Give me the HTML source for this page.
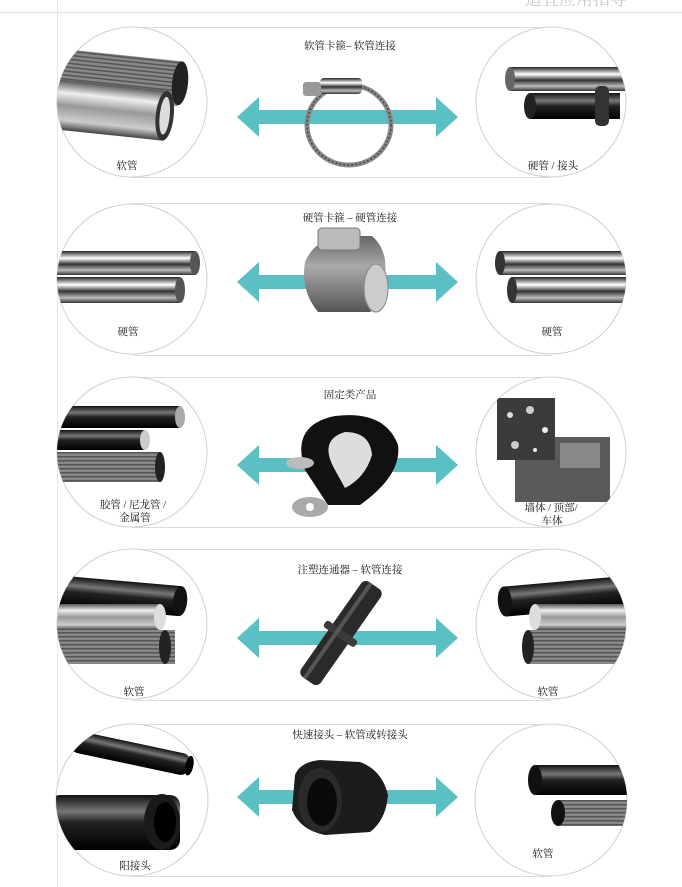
<!DOCTYPE html>
<html><head><meta charset="utf-8"><style>
html,body{margin:0;padding:0;background:#fff;}
svg{display:block;}
text{font-family:"Liberation Serif","Noto Serif CJK SC","Noto Sans CJK SC",serif;font-size:10.5px;fill:#111;}
</style></head><body>
<svg width="682" height="887" viewBox="0 0 682 887" xmlns="http://www.w3.org/2000/svg">
<defs>
<linearGradient id="gm" x1="0" y1="0" x2="0" y2="1">
<stop offset="0" stop-color="#555"/><stop offset="0.25" stop-color="#eee"/><stop offset="0.5" stop-color="#999"/><stop offset="0.8" stop-color="#ccc"/><stop offset="1" stop-color="#444"/></linearGradient>
<linearGradient id="gb" x1="0" y1="0" x2="0" y2="1">
<stop offset="0" stop-color="#111"/><stop offset="0.3" stop-color="#777"/><stop offset="0.5" stop-color="#222"/><stop offset="1" stop-color="#000"/></linearGradient>
<linearGradient id="gs" x1="0" y1="0" x2="0" y2="1">
<stop offset="0" stop-color="#222"/><stop offset="0.3" stop-color="#fff"/><stop offset="0.55" stop-color="#333"/><stop offset="0.8" stop-color="#bbb"/><stop offset="1" stop-color="#333"/></linearGradient>
<linearGradient id="gg" x1="0" y1="0" x2="0" y2="1">
<stop offset="0" stop-color="#666"/><stop offset="0.4" stop-color="#aaa"/><stop offset="1" stop-color="#555"/></linearGradient>
<pattern id="rib" width="4" height="4" patternUnits="userSpaceOnUse"><rect width="4" height="4" fill="#888"/><rect width="4" height="1.5" fill="#555"/></pattern>
<clipPath id="c1L"><circle cx="132" cy="102" r="75"/></clipPath>
<clipPath id="c1R"><circle cx="551" cy="102" r="75"/></clipPath>
<clipPath id="c2L"><circle cx="132" cy="279" r="75"/></clipPath>
<clipPath id="c2R"><circle cx="551" cy="279" r="75"/></clipPath>
<clipPath id="c3L"><circle cx="132" cy="452" r="75"/></clipPath>
<clipPath id="c3R"><circle cx="551" cy="452" r="75"/></clipPath>
<clipPath id="c4L"><circle cx="132" cy="624" r="75"/></clipPath>
<clipPath id="c4R"><circle cx="551" cy="624" r="75"/></clipPath>
<clipPath id="c5L"><circle cx="132" cy="800" r="76"/></clipPath>
<clipPath id="c5R"><circle cx="551" cy="800" r="76"/></clipPath>
<g id="arrow"><polygon points="0,0 22,-20 22,-7 199,-7 199,-20 221,0 199,20 199,7 22,7 22,20" fill="#5bc0c3"/></g>
</defs>

<line x1="0" y1="12.5" x2="682" y2="12.5" stroke="#e6e6e6" stroke-width="1.5"/>
<line x1="57.5" y1="0" x2="57.5" y2="887" stroke="#e6e6e6" stroke-width="1"/>
<text x="525" y="5" style="font-size:17px;fill:#c8c8c8">适宜应用指导</text>

<g fill="none" stroke="#dcdcdc" stroke-width="1">
<line x1="132" y1="27.5" x2="551" y2="27.5"/><line x1="132" y1="177.5" x2="551" y2="177.5"/>
<line x1="132" y1="203.5" x2="551" y2="203.5"/><line x1="132" y1="355.5" x2="551" y2="355.5"/>
<line x1="132" y1="377.5" x2="551" y2="377.5"/><line x1="132" y1="527.5" x2="551" y2="527.5"/>
<line x1="132" y1="549.5" x2="551" y2="549.5"/><line x1="132" y1="700.5" x2="551" y2="700.5"/>
<line x1="132" y1="724.5" x2="551" y2="724.5"/><line x1="132" y1="876.5" x2="551" y2="876.5"/>
</g>
<g fill="#fff" stroke="#d0d0d0" stroke-width="1">
<circle cx="132" cy="102" r="75"/><circle cx="551" cy="102" r="75"/>
<circle cx="132" cy="279" r="75"/><circle cx="551" cy="279" r="75"/>
<circle cx="132" cy="452" r="75"/><circle cx="551" cy="452" r="75"/>
<circle cx="132" cy="624" r="75"/><circle cx="551" cy="624" r="75"/>
<circle cx="132" cy="800" r="76"/><circle cx="551" cy="800" r="76"/>
</g>

<!-- Row1 -->
<g clip-path="url(#c1L)">
<g transform="rotate(6 120 80)"><rect x="50" y="55" width="130" height="45" fill="url(#rib)"/><ellipse cx="180" cy="77" rx="8" ry="22" fill="#222"/></g>
<g transform="rotate(6 110 110)"><rect x="50" y="85" width="115" height="50" fill="url(#gm)"/><ellipse cx="165" cy="110" rx="9" ry="25" fill="#333"/><ellipse cx="165" cy="110" rx="5" ry="19" fill="#ddd"/></g>
</g>
<g clip-path="url(#c1R)">
<rect x="510" y="67" width="120" height="24" fill="url(#gs)"/><ellipse cx="510" cy="79" rx="5" ry="12" fill="#666"/>
<rect x="530" y="93" width="90" height="26" fill="url(#gb)"/><rect x="595" y="86" width="14" height="40" rx="5" fill="#333"/><ellipse cx="530" cy="106" rx="6" ry="13" fill="#222"/>
</g>
<text x="350" y="49" text-anchor="middle">软管卡箍– 软管连接</text>
<use href="#arrow" x="237" y="117"/>
<ellipse cx="349" cy="125" rx="42" ry="40" fill="none" stroke="#888" stroke-width="5"/>
<ellipse cx="349" cy="125" rx="42" ry="40" fill="none" stroke="#444" stroke-width="1.5" stroke-dasharray="2 2"/>
<rect x="320" y="78" width="42" height="16" rx="4" fill="url(#gs)"/>
<rect x="303" y="82" width="18" height="14" rx="3" fill="#999"/>
<text x="127" y="169" text-anchor="middle">软管</text>
<text x="553" y="169" text-anchor="middle">硬管 / 接头</text>

<!-- Row2 -->
<g clip-path="url(#c2L)">
<rect x="50" y="251" width="145" height="24" fill="url(#gs)"/><ellipse cx="195" cy="263" rx="5" ry="12" fill="#555"/>
<rect x="50" y="277" width="130" height="26" fill="url(#gs)"/><ellipse cx="180" cy="290" rx="5" ry="13" fill="#555"/>
</g>
<g clip-path="url(#c2R)">
<rect x="500" y="251" width="140" height="24" fill="url(#gs)"/><ellipse cx="500" cy="263" rx="5" ry="12" fill="#333"/>
<rect x="512" y="277" width="130" height="26" fill="url(#gs)"/><ellipse cx="512" cy="290" rx="5" ry="13" fill="#333"/>
</g>
<text x="350" y="221" text-anchor="middle">硬管卡箍 – 硬管连接</text>
<use href="#arrow" x="237" y="282"/>
<path d="M305 262 Q315 238 345 236 L372 236 Q388 250 385 275 Q383 305 370 312 L318 312 Q300 290 305 262Z" fill="url(#gg)"/>
<ellipse cx="376" cy="288" rx="12" ry="24" fill="#ccc" stroke="#888"/>
<rect x="318" y="228" width="42" height="22" rx="4" fill="#bbb" stroke="#777"/>
<text x="128" y="335" text-anchor="middle">硬管</text>
<text x="552" y="335" text-anchor="middle">硬管</text>

<!-- Row3 -->
<g clip-path="url(#c3L)">
<rect x="50" y="406" width="130" height="22" fill="url(#gb)"/><ellipse cx="180" cy="417" rx="5" ry="11" fill="#aaa"/>
<rect x="50" y="430" width="95" height="20" fill="url(#gb)"/><ellipse cx="145" cy="440" rx="5" ry="10" fill="#ccc"/>
<rect x="50" y="452" width="110" height="30" fill="url(#rib)"/><ellipse cx="160" cy="467" rx="5" ry="15" fill="#222"/>
</g>
<g clip-path="url(#c3R)">
<rect x="515" y="437" width="95" height="65" fill="#5a5a5a"/>
<rect x="560" y="443" width="40" height="25" fill="#888"/>
<rect x="497" y="398" width="58" height="62" fill="#3b3b3b"/>
<circle cx="510" cy="415" r="3" fill="#ddd"/><circle cx="530" cy="410" r="4" fill="#ccc"/><circle cx="545" cy="430" r="3" fill="#eee"/><circle cx="515" cy="445" r="4" fill="#ccc"/><circle cx="535" cy="450" r="2" fill="#eee"/>
</g>
<text x="350" y="398" text-anchor="middle">固定类产品</text>
<use href="#arrow" x="237" y="465"/>
<path d="M328 505 L305 470 Q290 425 335 416 Q385 410 398 445 Q402 475 360 505Z" fill="#111"/>
<path d="M335 470 Q318 440 345 432 Q370 432 372 455 Q365 478 345 488Z" fill="#ddd"/>
<ellipse cx="310" cy="507" rx="18" ry="10" fill="#aaa"/><circle cx="310" cy="507" r="4" fill="#fff"/>
<ellipse cx="300" cy="463" rx="14" ry="6" fill="#bbb"/>
<text x="133" y="508" text-anchor="middle">胶管 / 尼龙管 /</text>
<text x="135" y="521" text-anchor="middle">金属管</text>
<text x="551" y="511" text-anchor="middle">墙体 / 顶部/</text>
<text x="552" y="524" text-anchor="middle">车体</text>

<!-- Row4 -->
<g clip-path="url(#c4L)">
<g transform="rotate(5 110 600)"><rect x="50" y="580" width="130" height="30" fill="url(#gb)"/><ellipse cx="180" cy="595" rx="7" ry="15" fill="#111"/></g>
<rect x="50" y="604" width="110" height="26" fill="url(#gm)"/><ellipse cx="160" cy="617" rx="6" ry="13" fill="#ddd"/>
<rect x="50" y="630" width="125" height="34" fill="url(#rib)"/><ellipse cx="165" cy="647" rx="6" ry="17" fill="#222"/>
</g>
<g clip-path="url(#c4R)">
<g transform="rotate(-5 580 600)"><rect x="505" y="580" width="130" height="30" fill="url(#gb)"/><ellipse cx="505" cy="595" rx="7" ry="15" fill="#111"/></g>
<rect x="535" y="604" width="100" height="26" fill="url(#gm)"/><ellipse cx="535" cy="617" rx="6" ry="13" fill="#ddd"/>
<rect x="528" y="630" width="105" height="34" fill="url(#rib)"/><ellipse cx="528" cy="647" rx="6" ry="17" fill="#222"/>
</g>
<text x="350" y="573" text-anchor="middle">注塑连通器 – 软管连接</text>
<use href="#arrow" x="237" y="638"/>
<g transform="rotate(-55 341 633)"><rect x="283" y="621" width="116" height="24" rx="6" fill="#2a2a2a"/><rect x="336" y="614" width="8" height="38" rx="3" fill="#3a3a3a"/><rect x="283" y="627" width="116" height="4" fill="#555"/></g>
<text x="134" y="695" text-anchor="middle">软管</text>
<text x="548" y="695" text-anchor="middle">软管</text>

<!-- Row5 -->
<g clip-path="url(#c5L)">
<g transform="rotate(12 120 755)"><rect x="70" y="740" width="120" height="22" rx="8" fill="url(#gb)"/><ellipse cx="190" cy="751" rx="4" ry="10" fill="#000"/></g>
<rect x="50" y="795" width="130" height="55" rx="10" fill="url(#gb)"/>
<ellipse cx="162" cy="822" rx="18" ry="28" fill="#1a1a1a"/><ellipse cx="165" cy="822" rx="11" ry="20" fill="#000"/>
</g>
<g clip-path="url(#c5R)">
<rect x="535" y="765" width="100" height="30" fill="url(#gb)"/><ellipse cx="535" cy="780" rx="7" ry="15" fill="#111"/>
<rect x="558" y="800" width="80" height="26" fill="url(#rib)"/><ellipse cx="558" cy="813" rx="7" ry="13" fill="#111"/>
</g>
<text x="350" y="738" text-anchor="middle">快速接头 – 软管或转接头</text>
<use href="#arrow" x="237" y="797"/>
<path d="M295 775 Q300 762 320 760 L360 762 Q382 770 388 795 Q386 820 370 832 L325 835 Q300 830 292 810Z" fill="#1c1c1c"/>
<ellipse cx="320" cy="800" rx="22" ry="32" fill="#2a2a2a"/><ellipse cx="322" cy="802" rx="15" ry="24" fill="#0a0a0a"/>
<text x="135" y="869" text-anchor="middle">阳接头</text>
<text x="543" y="857" text-anchor="middle">软管</text>
</svg>
</body></html>
